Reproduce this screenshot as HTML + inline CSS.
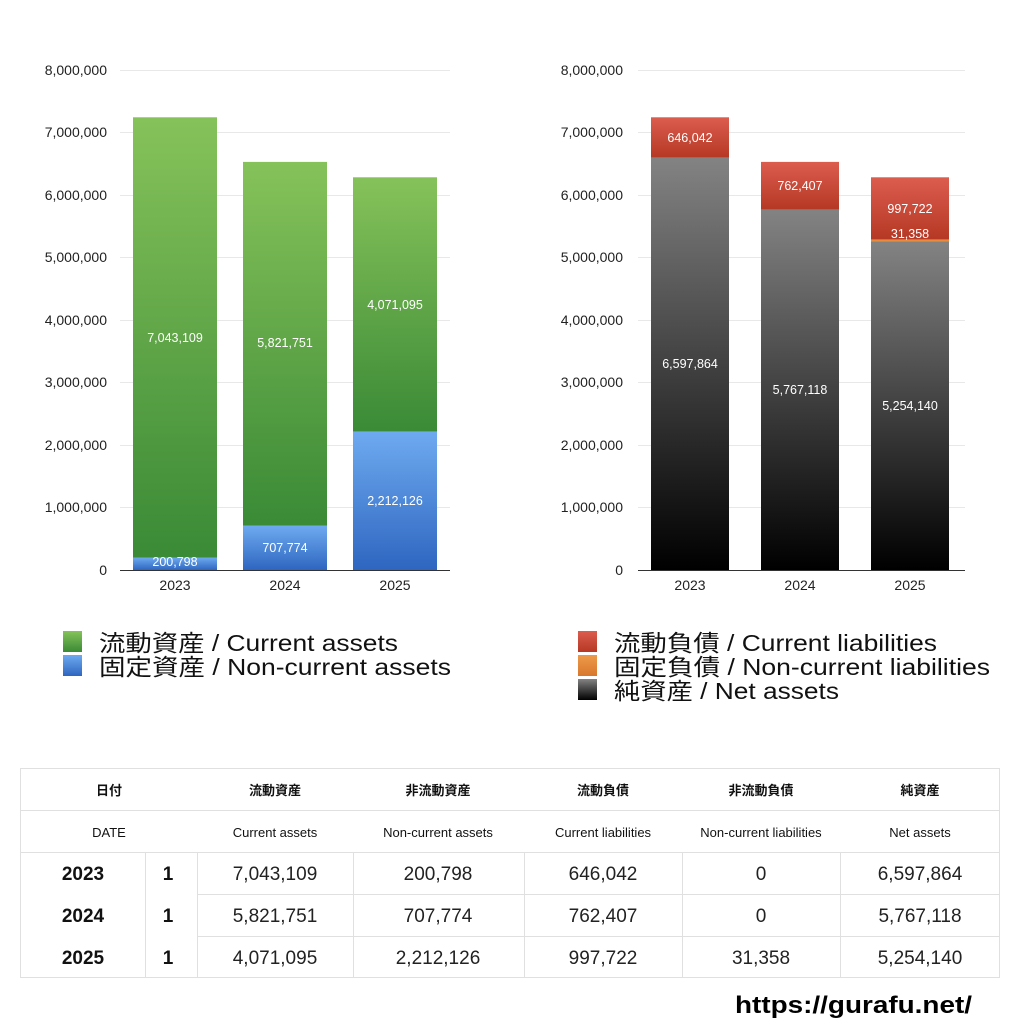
<!DOCTYPE html>
<html><head><meta charset="utf-8"><style>
body{margin:0;background:#fff;width:1024px;height:1024px;overflow:hidden}
svg text{font-family:"Liberation Sans","Noto Sans CJK JP",sans-serif}
</style></head><body>
<svg width="1024" height="1024" viewBox="0 0 1024 1024" xmlns="http://www.w3.org/2000/svg">
<defs>
<linearGradient id="g" x1="0" y1="0" x2="0" y2="1"><stop offset="0" stop-color="#86c25a"/><stop offset="1" stop-color="#3a8a36"/></linearGradient>
<linearGradient id="b" x1="0" y1="0" x2="0" y2="1"><stop offset="0" stop-color="#6eaaf0"/><stop offset="1" stop-color="#2e66c0"/></linearGradient>
<linearGradient id="k" x1="0" y1="0" x2="0" y2="1"><stop offset="0" stop-color="#838383"/><stop offset="1" stop-color="#000"/></linearGradient>
<linearGradient id="r" x1="0" y1="0" x2="0" y2="1"><stop offset="0" stop-color="#dc5c4e"/><stop offset="1" stop-color="#b53824"/></linearGradient>
<linearGradient id="o" x1="0" y1="0" x2="0" y2="1"><stop offset="0" stop-color="#ee9a4a"/><stop offset="1" stop-color="#d9782c"/></linearGradient>
</defs>
<g stroke="#e8e8e8" stroke-width="1">
<line x1="120" y1="70.5" x2="450" y2="70.5"/><line x1="120" y1="132.5" x2="450" y2="132.5"/><line x1="120" y1="195.5" x2="450" y2="195.5"/><line x1="120" y1="257.5" x2="450" y2="257.5"/><line x1="120" y1="320.5" x2="450" y2="320.5"/><line x1="120" y1="382.5" x2="450" y2="382.5"/><line x1="120" y1="445.5" x2="450" y2="445.5"/><line x1="120" y1="507.5" x2="450" y2="507.5"/>
<line x1="638" y1="70.5" x2="965" y2="70.5"/><line x1="638" y1="132.5" x2="965" y2="132.5"/><line x1="638" y1="195.5" x2="965" y2="195.5"/><line x1="638" y1="257.5" x2="965" y2="257.5"/><line x1="638" y1="320.5" x2="965" y2="320.5"/><line x1="638" y1="382.5" x2="965" y2="382.5"/><line x1="638" y1="445.5" x2="965" y2="445.5"/><line x1="638" y1="507.5" x2="965" y2="507.5"/>
</g>
<g font-size="14" fill="#222" text-anchor="end">
<text x="107" y="75">8,000,000</text><text x="107" y="137">7,000,000</text><text x="107" y="200">6,000,000</text><text x="107" y="262">5,000,000</text><text x="107" y="325">4,000,000</text><text x="107" y="387">3,000,000</text><text x="107" y="450">2,000,000</text><text x="107" y="512">1,000,000</text><text x="107" y="575">0</text>
<text x="623" y="75">8,000,000</text><text x="623" y="137">7,000,000</text><text x="623" y="200">6,000,000</text><text x="623" y="262">5,000,000</text><text x="623" y="325">4,000,000</text><text x="623" y="387">3,000,000</text><text x="623" y="450">2,000,000</text><text x="623" y="512">1,000,000</text><text x="623" y="575">0</text>
</g>
<rect x="133" y="117.3" width="84" height="440.2" fill="url(#g)"/><rect x="133" y="557.5" width="84" height="12.5" fill="url(#b)"/>
<rect x="243" y="161.9" width="84" height="363.9" fill="url(#g)"/><rect x="243" y="525.8" width="84" height="44.2" fill="url(#b)"/>
<rect x="353" y="177.3" width="84" height="254.4" fill="url(#g)"/><rect x="353" y="431.7" width="84" height="138.3" fill="url(#b)"/>
<rect x="651" y="117.3" width="78" height="40.3" fill="url(#r)"/><rect x="651" y="157.6" width="78" height="412.4" fill="url(#k)"/>
<rect x="761" y="161.9" width="78" height="47.7" fill="url(#r)"/><rect x="761" y="209.6" width="78" height="360.4" fill="url(#k)"/>
<rect x="871" y="177.3" width="78" height="62.4" fill="url(#r)"/><rect x="871" y="239.7" width="78" height="2" fill="url(#o)"/><rect x="871" y="241.6" width="78" height="328.4" fill="url(#k)"/>
<line x1="120" y1="570.5" x2="450" y2="570.5" stroke="#333"/><line x1="638" y1="570.5" x2="965" y2="570.5" stroke="#333"/>
<g font-size="12.5" fill="#fff" text-anchor="middle">
<text x="175" y="342">7,043,109</text><text x="175" y="566">200,798</text>
<text x="285" y="347">5,821,751</text><text x="285" y="552">707,774</text>
<text x="395" y="309">4,071,095</text><text x="395" y="505">2,212,126</text>
<text x="690" y="142">646,042</text><text x="690" y="368">6,597,864</text>
<text x="800" y="190">762,407</text><text x="800" y="394">5,767,118</text>
<text x="910" y="213">997,722</text><text x="910" y="238">31,358</text><text x="910" y="410">5,254,140</text>
</g>
<g font-size="14" fill="#222" text-anchor="middle">
<text x="175" y="590">2023</text><text x="285" y="590">2024</text><text x="395" y="590">2025</text>
<text x="690" y="590">2023</text><text x="800" y="590">2024</text><text x="910" y="590">2025</text>
</g>
<rect x="63" y="631" width="19" height="21" fill="url(#g)"/><rect x="63" y="655" width="19" height="21" fill="url(#b)"/>
<rect x="578" y="631" width="19" height="21" fill="url(#r)"/><rect x="578" y="655" width="19" height="21" fill="url(#o)"/><rect x="578" y="679" width="19" height="21" fill="url(#k)"/>
<g font-size="23" fill="#111">
<text x="99" y="651" textLength="299" lengthAdjust="spacingAndGlyphs">流動資産 / Current assets</text><text x="99" y="675" textLength="352" lengthAdjust="spacingAndGlyphs">固定資産 / Non-current assets</text>
<text x="614" y="651" textLength="323" lengthAdjust="spacingAndGlyphs">流動負債 / Current liabilities</text><text x="614" y="675" textLength="376" lengthAdjust="spacingAndGlyphs">固定負債 / Non-current liabilities</text><text x="614" y="699" textLength="225" lengthAdjust="spacingAndGlyphs">純資産 / Net assets</text>
</g>
<g stroke="#e0e0e0" stroke-width="1" fill="none">
<rect x="20.5" y="768.5" width="979" height="209"/>
<line x1="20" y1="810.5" x2="1000" y2="810.5"/><line x1="20" y1="852.5" x2="1000" y2="852.5"/><line x1="197" y1="894.5" x2="1000" y2="894.5"/><line x1="197" y1="936.5" x2="1000" y2="936.5"/>
<line x1="145.5" y1="852" x2="145.5" y2="978"/><line x1="197.5" y1="852" x2="197.5" y2="978"/><line x1="353.5" y1="852" x2="353.5" y2="978"/><line x1="524.5" y1="852" x2="524.5" y2="978"/><line x1="682.5" y1="852" x2="682.5" y2="978"/><line x1="840.5" y1="852" x2="840.5" y2="978"/>
</g>
<g font-size="13" fill="#111" text-anchor="middle" font-weight="bold">
<text x="109" y="795">日付</text><text x="275" y="795">流動資産</text><text x="438" y="795">非流動資産</text><text x="603" y="795">流動負債</text><text x="761" y="795">非流動負債</text><text x="920" y="795">純資産</text>
</g>
<g font-size="13" fill="#111" text-anchor="middle">
<text x="109" y="837">DATE</text><text x="275" y="837">Current assets</text><text x="438" y="837">Non-current assets</text><text x="603" y="837">Current liabilities</text><text x="761" y="837">Non-current liabilities</text><text x="920" y="837">Net assets</text>
</g>
<g font-size="19" fill="#111" text-anchor="middle" font-weight="bold">
<text x="83" y="880">2023</text><text x="168" y="880">1</text>
<text x="83" y="922">2024</text><text x="168" y="922">1</text>
<text x="83" y="964">2025</text><text x="168" y="964">1</text>
</g>
<g font-size="19" fill="#222" text-anchor="middle">
<text x="275" y="880">7,043,109</text><text x="438" y="880">200,798</text><text x="603" y="880">646,042</text><text x="761" y="880">0</text><text x="920" y="880">6,597,864</text>
<text x="275" y="922">5,821,751</text><text x="438" y="922">707,774</text><text x="603" y="922">762,407</text><text x="761" y="922">0</text><text x="920" y="922">5,767,118</text>
<text x="275" y="964">4,071,095</text><text x="438" y="964">2,212,126</text><text x="603" y="964">997,722</text><text x="761" y="964">31,358</text><text x="920" y="964">5,254,140</text>
</g>
<text x="735" y="1013" font-size="24" font-weight="bold" fill="#000" textLength="237" lengthAdjust="spacingAndGlyphs">https://gurafu.net/</text>
</svg>
</body></html>
